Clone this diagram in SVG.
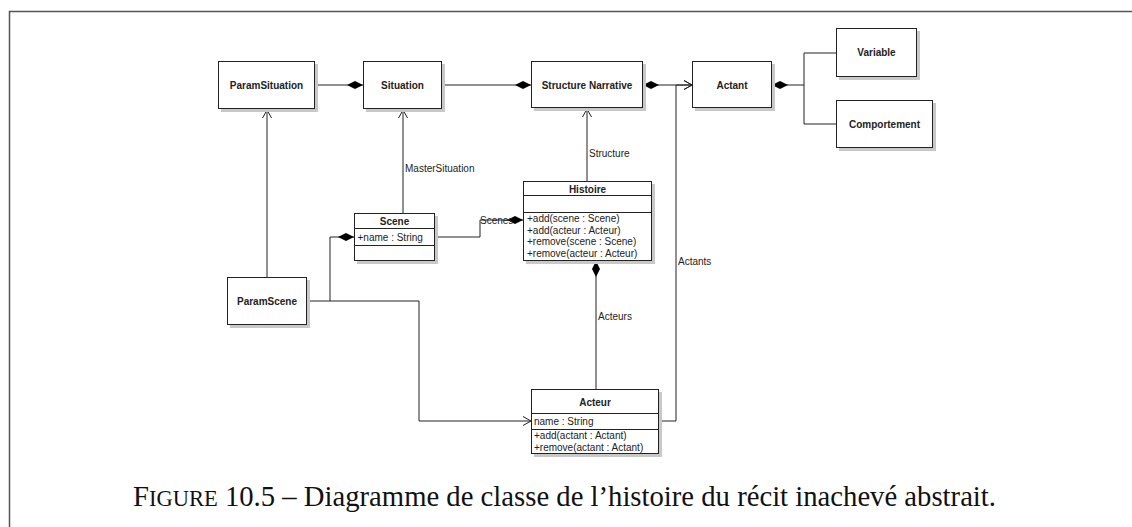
<svg xmlns="http://www.w3.org/2000/svg" width="1132" height="527" viewBox="0 0 1132 527">
<style>
.box{fill:#fff;stroke:#222;stroke-width:1}
.shadow{fill:#c8c8c8}
.name{font-family:"Liberation Sans",Arial,sans-serif;font-size:10px;font-weight:bold;fill:#222;text-anchor:middle}
.txt{font-family:"Liberation Sans",Arial,sans-serif;font-size:10px;fill:#222}
.conn{fill:none;stroke:#222;stroke-width:1}
.cap{font-family:"Liberation Serif","Times New Roman",serif;font-size:28.7px;fill:#111}
</style>
<defs>
<marker id="dEnd" markerUnits="userSpaceOnUse" viewBox="-17 -5 18 10" refX="0" refY="0" markerWidth="18" markerHeight="10" orient="auto">
<path d="M0,0 L-8,-4 L-16,0 L-8,4 Z" fill="#000"/>
</marker>
<marker id="dStart" markerUnits="userSpaceOnUse" viewBox="-1 -5 18 10" refX="0" refY="0" markerWidth="18" markerHeight="10" orient="auto">
<path d="M0,0 L8,-4 L16,0 L8,4 Z" fill="#000"/>
</marker>
<marker id="arr" markerUnits="userSpaceOnUse" viewBox="-10 -6 12 12" refX="0" refY="0" markerWidth="12" markerHeight="12" orient="auto">
<path d="M-8,-4.5 L0,0 L-8,4.5" fill="none" stroke="#222" stroke-width="1"/>
</marker>
</defs>
<rect width="1132" height="527" fill="#fff"/>
<path d="M9.5,540 V11.5 H1140" fill="none" stroke="#555" stroke-width="1.5"/>

<g id="connectors">
<path class="conn" d="M315,85 H363" marker-end="url(#dEnd)"/>
<path class="conn" d="M442,85 H531" marker-end="url(#dEnd)"/>
<path class="conn" d="M643,85 H692" marker-start="url(#dStart)" marker-end="url(#arr)"/>
<path class="conn" d="M772,85 H804" marker-start="url(#dStart)"/>
<path class="conn" d="M836,53 H804 V124 H836"/>
<path class="conn" d="M267,277 V110" marker-end="url(#arr)"/>
<path class="conn" d="M403,213 V110" marker-end="url(#arr)"/>
<text class="txt" x="405" y="172">MasterSituation</text>
<path class="conn" d="M587,181 V109" marker-end="url(#arr)"/>
<text class="txt" x="589" y="157">Structure</text>
<path class="conn" d="M435,237 H480 V220 H523" marker-end="url(#dEnd)"/>
<text class="txt" x="480" y="223.5">Scenes</text>
<path class="conn" d="M596,261 V389" marker-start="url(#dStart)"/>
<text class="txt" x="598" y="319.5">Acteurs</text>
<path class="conn" d="M307,301 H330 V237 H354" marker-end="url(#dEnd)"/>
<path class="conn" d="M330,301 H419 V421 H531" marker-end="url(#arr)"/>
<path class="conn" d="M659,421 H676 V85 H692" marker-end="url(#arr)"/>
<text class="txt" x="678" y="264.5">Actants</text>
</g>

<g id="ParamSituation">
<rect class="shadow" x="221" y="64" width="97" height="48"/>
<rect class="box" x="218.5" y="61.5" width="96" height="47"/>
<text class="name" x="266.5" y="88.5">ParamSituation</text>
</g>
<g id="Situation">
<rect class="shadow" x="366" y="64" width="79" height="48"/>
<rect class="box" x="363.5" y="61.5" width="78" height="47"/>
<text class="name" x="402.5" y="88.5">Situation</text>
</g>
<g id="StructureNarrative">
<rect class="shadow" x="534" y="64" width="112" height="47"/>
<rect class="box" x="531.5" y="61.5" width="111" height="46"/>
<text class="name" x="587" y="88.5">Structure Narrative</text>
</g>
<g id="Actant">
<rect class="shadow" x="695" y="64" width="80" height="47"/>
<rect class="box" x="692.5" y="61.5" width="79" height="46"/>
<text class="name" x="732" y="88.5">Actant</text>
</g>
<g id="Variable">
<rect class="shadow" x="839" y="31" width="81" height="49"/>
<rect class="box" x="836.5" y="28.5" width="80" height="48"/>
<text class="name" x="876.5" y="56">Variable</text>
</g>
<g id="Comportement">
<rect class="shadow" x="839" y="103" width="97" height="48"/>
<rect class="box" x="836.5" y="100.5" width="96" height="47"/>
<text class="name" x="884.5" y="127.5">Comportement</text>
</g>
<g id="ParamScene">
<rect class="shadow" x="230" y="280" width="80" height="48"/>
<rect class="box" x="227.5" y="277.5" width="79" height="47"/>
<text class="name" x="267" y="304.5">ParamScene</text>
</g>
<g id="Scene">
<rect class="shadow" x="357" y="216" width="81" height="48"/>
<rect class="box" x="354.5" y="213.5" width="80" height="47"/>
<line class="conn" x1="354.5" y1="228.5" x2="434.5" y2="228.5"/>
<line class="conn" x1="354.5" y1="245.5" x2="434.5" y2="245.5"/>
<text class="name" x="394.5" y="224.5">Scene</text>
<text class="txt" x="357.5" y="240.5">+name : String</text>
</g>
<g id="Histoire">
<rect class="shadow" x="526" y="184" width="129" height="80"/>
<rect class="box" x="523.5" y="181.5" width="128" height="79"/>
<line class="conn" x1="523.5" y1="195.5" x2="651.5" y2="195.5"/>
<line class="conn" x1="523.5" y1="212.5" x2="651.5" y2="212.5"/>
<text class="name" x="587.5" y="192.5">Histoire</text>
<text class="txt" x="527" y="222">+add(scene : Scene)</text>
<text class="txt" x="527" y="233.5">+add(acteur : Acteur)</text>
<text class="txt" x="527" y="245">+remove(scene : Scene)</text>
<text class="txt" x="527" y="256.5">+remove(acteur : Acteur)</text>
</g>
<g id="Acteur">
<rect class="shadow" x="534" y="392" width="128" height="65"/>
<rect class="box" x="531.5" y="389.5" width="127" height="64"/>
<line class="conn" x1="531.5" y1="413.5" x2="658.5" y2="413.5"/>
<line class="conn" x1="531.5" y1="429.5" x2="658.5" y2="429.5"/>
<text class="name" x="595" y="405.5">Acteur</text>
<text class="txt" x="534" y="424.5">name : String</text>
<text class="txt" x="534" y="439">+add(actant : Actant)</text>
<text class="txt" x="534" y="450.5">+remove(actant : Actant)</text>
</g>

<text class="cap" x="133" y="506">F<tspan font-size="22.5">IGURE</tspan> 10.5 – Diagramme de classe de l’histoire du récit inachevé abstrait.</text>
</svg>
